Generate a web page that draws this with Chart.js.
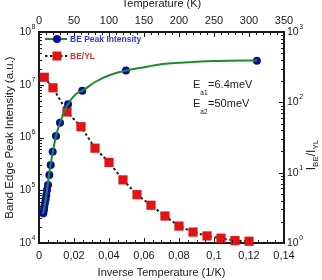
<!DOCTYPE html>
<html><head><meta charset="utf-8">
<script src="https://cdn.jsdelivr.net/npm/chart.js@4/dist/chart.umd.min.js"></script>
<style>html,body{margin:0;padding:0;background:#fff;overflow:hidden;}</style>
</head><body>
<canvas id="c" width="322" height="280" style="display:block;width:322px;height:280px"></canvas>
<script>
// ---- data ----
const blueX = [0.00246,0.00286,0.00303,0.00343,0.00383,0.00417,0.00457,0.00514,0.00588,0.00668,0.00782,0.0097,0.012,0.0166,0.0247,0.0497,0.1245];
const blueY = [36600,42300,48700,58000,68200,81300,101000,126000,194000,301000,538000,1067000,1900000,4260000,7700000,18700000,28600000];
const fitX = [0.00229,0.00343,0.00457,0.00629,0.008,0.00971,0.012,0.01486,0.01771,0.02114,0.02514,0.032,0.04057,0.04971,0.06171,0.07086,0.08057,0.09029,0.09943,0.10914,0.12457];
const fitY = [35500,57300,101000,264000,555000,1068000,1925000,3320000,4920000,6680000,7850000,11280000,15300000,18630000,22000000,24740000,26180000,27350000,28200000,28570000,28820000];
const redX = [0.003,0.008,0.016,0.024,0.032,0.040,0.048,0.056,0.064,0.072,0.080,0.088,0.096,0.104,0.112,0.120];
const redY = [227,161,73,45,22.3,14,7.9,4.86,3.44,2.42,1.74,1.43,1.26,1.17,1.08,1.06];
const xTicks = [0,0.02,0.04,0.06,0.08,0.10,0.12,0.14];
const tempTicks = [0,50,100,150,200,250,300,350];
const leftDecades = [4,5,6,7,8];
const rightDecades = [0,1,2,3];

const FONT = "'Liberation Sans', Arial, sans-serif";
const INK = '#1a1a1a';
const GREEN = '#1f8a2e';
const BLUE = '#0a0aa8';
const RED = '#e01414';

function fmtX(v){ if (Math.abs(v) < 1e-9) return '0'; return String(Math.round(v*100)/100).replace('.', ','); }

function drawPow(ctx, x, y, exp, align){
  ctx.save();
  ctx.textBaseline = 'middle';
  ctx.fillStyle = INK;
  ctx.font = '10.5px ' + FONT;
  const wb = ctx.measureText('10').width;
  ctx.font = '7px ' + FONT;
  const ws = ctx.measureText(String(exp)).width;
  let x0 = align === 'right' ? x - wb - ws : x;
  ctx.font = '10.5px ' + FONT;
  ctx.textAlign = 'left';
  ctx.fillText('10', x0, y);
  ctx.font = '7px ' + FONT;
  ctx.fillText(String(exp), x0 + wb + 0.5, y - 5);
  ctx.restore();
}

const decor = {
  id: 'decor',
  afterDraw(chart){
    const ctx = chart.ctx;
    const {left, right, top, bottom} = chart.chartArea;
    const sx = chart.scales.x, sx2 = chart.scales.x2, sy = chart.scales.y, sy2 = chart.scales.y2;
    ctx.save();
    ctx.strokeStyle = INK;
    ctx.lineWidth = 1;
    // bottom ticks (inward)
    for (let v = 0; v <= 0.14001; v += 0.005) {
      const p = Math.round(sx.getPixelForValue(v)) + 0.5;
      const major = Math.abs(v/0.02 - Math.round(v/0.02)) < 1e-6;
      ctx.beginPath(); ctx.moveTo(p, bottom); ctx.lineTo(p, bottom - (major ? 5 : 3)); ctx.stroke();
    }
    // top ticks (inward)
    for (let v = 0; v <= 350; v += 10) {
      const p = Math.round(sx2.getPixelForValue(v)) + 0.5;
      const major = v % 50 === 0;
      ctx.beginPath(); ctx.moveTo(p, top); ctx.lineTo(p, top + (major ? 5 : 3)); ctx.stroke();
    }
    // left log ticks
    for (let d = 4; d < 8; d++) for (let m = 1; m <= 9; m++) {
      const v = m * Math.pow(10, d);
      const p = Math.round(sy.getPixelForValue(v)) + 0.5;
      ctx.beginPath(); ctx.moveTo(left, p); ctx.lineTo(left + (m === 1 ? 5 : 3), p); ctx.stroke();
    }
    // right log ticks
    for (let d = 0; d < 3; d++) for (let m = 1; m <= 9; m++) {
      const v = m * Math.pow(10, d);
      const p = Math.round(sy2.getPixelForValue(v)) + 0.5;
      ctx.beginPath(); ctx.moveTo(right, p); ctx.lineTo(right - (m === 1 ? 5 : 3), p); ctx.stroke();
    }
    ctx.restore();

    // log tick labels
    leftDecades.forEach(e => drawPow(ctx, 35, sy.getPixelForValue(Math.pow(10, e)), e, 'right'));
    rightDecades.forEach(e => drawPow(ctx, 287, sy2.getPixelForValue(Math.pow(10, e)), e, 'left'));

    // right axis title I_BE/I_YL (rotated)
    ctx.save();
    ctx.translate(312, 155);
    ctx.rotate(-Math.PI/2);
    ctx.fillStyle = INK;
    ctx.textBaseline = 'middle';
    const parts = [['I', 12, 0], ['BE', 8, 4], ['/I', 12, 0], ['YL', 8, 4]];
    let tw = 0;
    parts.forEach(p => { ctx.font = p[1] + 'px ' + FONT; tw += ctx.measureText(p[0]).width; });
    let cx = -tw/2;
    parts.forEach(p => { ctx.font = p[1] + 'px ' + FONT; ctx.fillText(p[0], cx, p[2]); cx += ctx.measureText(p[0]).width; });
    ctx.restore();

    // legend
    ctx.save();
    ctx.lineWidth = 2;
    ctx.strokeStyle = GREEN;
    ctx.beginPath(); ctx.moveTo(45, 39); ctx.lineTo(67, 39); ctx.stroke();
    ctx.fillStyle = BLUE;
    ctx.beginPath(); ctx.arc(57, 39, 4, 0, Math.PI*2); ctx.fill();
    ctx.strokeStyle = INK;
    ctx.setLineDash([2.5,2.5]);
    ctx.beginPath(); ctx.moveTo(45, 56); ctx.lineTo(67, 56); ctx.stroke();
    ctx.setLineDash([]);
    ctx.fillStyle = RED;
    ctx.fillRect(52.5, 51.5, 9, 9);
    ctx.font = 'bold 8.5px ' + FONT;
    ctx.textBaseline = 'middle';
    ctx.fillStyle = '#3535c8';
    ctx.fillText('BE Peak Intensity', 70, 39.5);
    ctx.fillStyle = '#e03030';
    ctx.fillText('BE/YL', 70, 56.5);
    ctx.restore();

    // annotation
    ctx.save();
    ctx.fillStyle = INK;
    ctx.textBaseline = 'middle';
    function ann(y, sub, rest){
      ctx.font = '11px ' + FONT;
      ctx.fillText('E', 193, y);
      let x = 193 + ctx.measureText('E').width;
      ctx.font = '6.5px ' + FONT;
      ctx.fillText(sub, x, y + 8);
      x += ctx.measureText(sub).width + 0.5;
      ctx.font = '11px ' + FONT;
      ctx.fillText(rest, x, y);
    }
    ann(85, 'a1', '=6.4meV');
    ann(104, 'a2', '=50meV');
    ctx.restore();
  }
};

const commonBorder = { display: true, color: INK, width: 2 };

new Chart(document.getElementById('c'), {
  type: 'scatter',
  data: {
    datasets: [
      { label: 'fit', data: fitX.map((x,i)=>({x, y: fitY[i]})), xAxisID: 'x', yAxisID: 'y', showLine: true,
        borderColor: GREEN, borderWidth: 2, pointRadius: 0, cubicInterpolationMode: 'monotone', clip: false },
      { label: 'BE Peak Intensity', data: blueX.map((x,i)=>({x, y: blueY[i]})), xAxisID: 'x', yAxisID: 'y', showLine: false,
        backgroundColor: BLUE, borderColor: BLUE, borderWidth: 0, pointRadius: 4, clip: false },
      { label: 'BE/YL', data: redX.map((x,i)=>({x, y: redY[i]})), xAxisID: 'x', yAxisID: 'y2', showLine: true,
        borderColor: INK, borderWidth: 2, borderDash: [2.5,2.5], pointStyle: 'rect', pointRadius: 6.5,
        pointBackgroundColor: RED, pointBorderColor: RED, pointBorderWidth: 0, clip: false }
    ]
  },
  options: {
    responsive: false, animation: false, devicePixelRatio: 1,
    layout: { padding: 0 },
    plugins: { legend: { display: false }, tooltip: { enabled: false } },
    scales: {
      x: { type: 'linear', position: 'bottom', min: 0, max: 0.14,
        afterBuildTicks: s => { s.ticks = xTicks.map(v => ({ value: v })); },
        ticks: { callback: v => fmtX(v), padding: 6, maxRotation: 0, autoSkip: false, color: INK, font: { family: FONT, size: 11 } },
        grid: { display: false, drawTicks: false }, border: commonBorder,
        title: { display: true, text: 'Inverse Temperature (1/K)', color: INK, font: { family: FONT, size: 11 }, padding: { top: 0, bottom: 0 } },
        afterFit: s => { s.height = 37; } },
      x2: { type: 'linear', position: 'top', min: 0, max: 350,
        afterBuildTicks: s => { s.ticks = tempTicks.map(v => ({ value: v })); },
        ticks: { padding: 4, maxRotation: 0, autoSkip: false, color: INK, font: { family: FONT, size: 11 } },
        grid: { display: false, drawTicks: false }, border: commonBorder,
        title: { display: true, text: 'Temperature (K)', color: INK, font: { family: FONT, size: 11 }, padding: { top: -3, bottom: 0 } },
        afterFit: s => { s.height = 32; } },
      y: { type: 'logarithmic', position: 'left', min: 1e4, max: 1e8,
        ticks: { display: false }, grid: { display: false, drawTicks: false }, border: commonBorder,
        title: { display: true, text: 'Band Edge Peak Intensity (a.u.)', color: INK, font: { family: FONT, size: 11.5 }, padding: { top: 3, bottom: 0 } },
        afterFit: s => { s.width = 39; } },
      y2: { type: 'logarithmic', position: 'right', min: 1, max: 1000,
        ticks: { display: false }, grid: { display: false, drawTicks: false }, border: commonBorder,
        afterFit: s => { s.width = 38; } }
    }
  },
  plugins: [decor]
});
</script>
</body></html>
